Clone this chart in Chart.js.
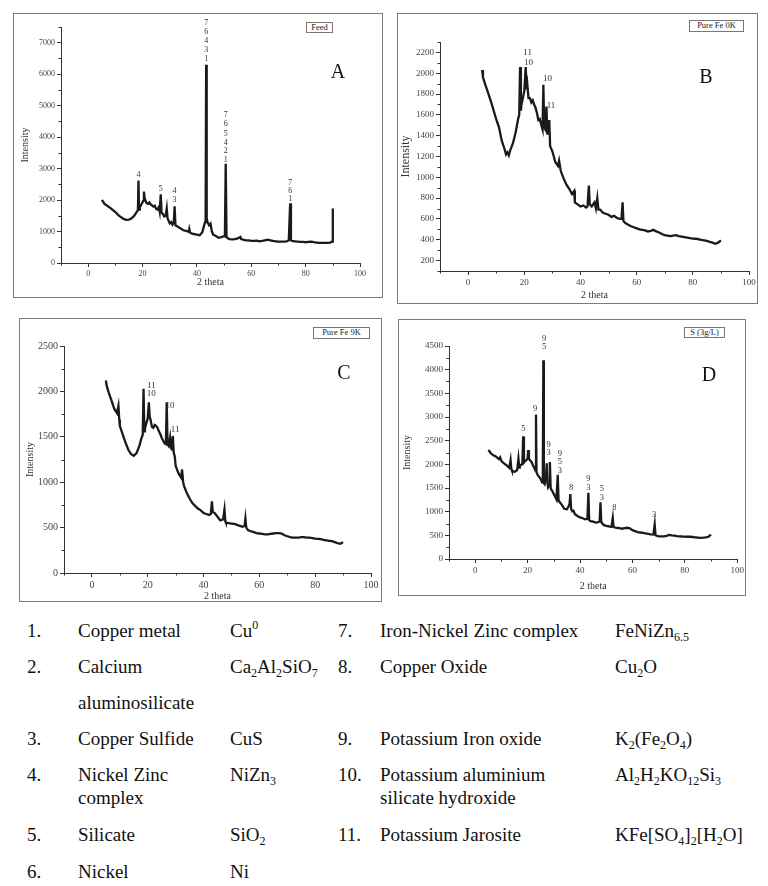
<!DOCTYPE html>
<html>
<head>
<meta charset="utf-8">
<script src="https://cdn.jsdelivr.net/npm/chart.js@4.4.1/dist/chart.umd.min.js"></script>
<style>
  body { margin: 0; width: 768px; height: 886px; background: #fff; position: relative; overflow: hidden;
         font-family: "Liberation Serif", "Times New Roman", serif; }
  .panel { position: absolute; }
  .panel canvas { position: absolute; left: 0; top: 0; }
  .frame { position: absolute; border: 1.5px solid #7a7a7a; box-sizing: border-box; pointer-events: none; }
  .tag { position: absolute; border: 1px solid #777; box-sizing: border-box; font-size: 8.5px; line-height: 9px;
         text-align: center; color: #222; background: #fff; white-space: nowrap; }
  .letter { position: absolute; font-size: 20px; line-height: 20px; color: #111; transform: translate(-50%, -50%); }
  .t { position: absolute; font-size: 19px; line-height: 22px; color: #111; white-space: nowrap; }
  sub { font-size: 12px; line-height: 0; vertical-align: -4px; }
  sup { font-size: 12px; line-height: 0; vertical-align: 8px; }
</style>
</head>
<body>

<div class="panel" style="left:13px;top:13px;width:370px;height:285px"><canvas id="chartA" width="370" height="285"></canvas></div>
<div class="frame" style="left:13px;top:13px;width:370px;height:285px"></div>
<div class="tag" style="left:306px;top:22px;width:27px;height:11px">Feed</div>
<div class="letter" style="left:338px;top:71px">A</div>

<div class="panel" style="left:397px;top:13px;width:361px;height:291px"><canvas id="chartB" width="361" height="291"></canvas></div>
<div class="frame" style="left:397px;top:13px;width:361px;height:291px"></div>
<div class="tag" style="left:689px;top:20px;width:55px;height:12px">Pure Fe 0K</div>
<div class="letter" style="left:706px;top:76px">B</div>

<div class="panel" style="left:19px;top:318px;width:363px;height:284px"><canvas id="chartC" width="363" height="284"></canvas></div>
<div class="frame" style="left:19px;top:318px;width:363px;height:284px"></div>
<div class="tag" style="left:313px;top:327px;width:57px;height:12px">Pure Fe 9K</div>
<div class="letter" style="left:344px;top:372px">C</div>

<div class="panel" style="left:398px;top:319px;width:348px;height:277px"><canvas id="chartD" width="348" height="277"></canvas></div>
<div class="frame" style="left:398px;top:319px;width:348px;height:277px"></div>
<div class="tag" style="left:684px;top:327px;width:41px;height:11px">S (3g/L)</div>
<div class="letter" style="left:709px;top:374px">D</div>

<div class="t" style="left:27px;top:620px">1.</div>
<div class="t" style="left:78px;top:620px">Copper metal</div>
<div class="t" style="left:230px;top:620px">Cu<sup>0</sup></div>
<div class="t" style="left:338px;top:620px">7.</div>
<div class="t" style="left:380px;top:620px">Iron-Nickel Zinc complex</div>
<div class="t" style="left:615px;top:620px">FeNiZn<sub>6.5</sub></div>

<div class="t" style="left:27px;top:656px">2.</div>
<div class="t" style="left:78px;top:656px">Calcium</div>
<div class="t" style="left:230px;top:656px">Ca<sub>2</sub>Al<sub>2</sub>SiO<sub>7</sub></div>
<div class="t" style="left:338px;top:656px">8.</div>
<div class="t" style="left:380px;top:656px">Copper Oxide</div>
<div class="t" style="left:615px;top:656px">Cu<sub>2</sub>O</div>
<div class="t" style="left:78px;top:692px">aluminosilicate</div>

<div class="t" style="left:27px;top:728px">3.</div>
<div class="t" style="left:78px;top:728px">Copper Sulfide</div>
<div class="t" style="left:230px;top:728px">CuS</div>
<div class="t" style="left:338px;top:728px">9.</div>
<div class="t" style="left:380px;top:728px">Potassium Iron oxide</div>
<div class="t" style="left:615px;top:728px">K<sub>2</sub>(Fe<sub>2</sub>O<sub>4</sub>)</div>

<div class="t" style="left:27px;top:764px">4.</div>
<div class="t" style="left:78px;top:764px">Nickel Zinc</div>
<div class="t" style="left:230px;top:764px">NiZn<sub>3</sub></div>
<div class="t" style="left:338px;top:764px">10.</div>
<div class="t" style="left:380px;top:764px">Potassium aluminium</div>
<div class="t" style="left:615px;top:764px">Al<sub>2</sub>H<sub>2</sub>KO<sub>12</sub>Si<sub>3</sub></div>
<div class="t" style="left:78px;top:787px">complex</div>
<div class="t" style="left:380px;top:787px">silicate hydroxide</div>

<div class="t" style="left:27px;top:824px">5.</div>
<div class="t" style="left:78px;top:824px">Silicate</div>
<div class="t" style="left:230px;top:824px">SiO<sub>2</sub></div>
<div class="t" style="left:338px;top:824px">11.</div>
<div class="t" style="left:380px;top:824px">Potassium Jarosite</div>
<div class="t" style="left:615px;top:824px">KFe[SO<sub>4</sub>]<sub>2</sub>[H<sub>2</sub>O]</div>

<div class="t" style="left:27px;top:861px">6.</div>
<div class="t" style="left:78px;top:861px">Nickel</div>
<div class="t" style="left:230px;top:861px">Ni</div>

<script>
// ---- A: Feed ----
const feedTheta = [5, 5.5, 6, 7, 8, 9, 10, 11, 12, 13, 14, 15, 16, 17, 17.8, 18.3, 18.5, 18.7, 19, 19.5, 20, 20.3, 20.5, 20.8, 21, 21.5, 22, 22.5, 23, 24, 24.5, 25, 25.5, 26, 26.3, 26.7, 27, 27.5, 28, 28.5, 28.9, 29.2, 30, 30.5, 31, 31.5, 31.8, 32.1, 33, 34, 35, 36, 37, 37.2, 37.5, 38, 39, 40, 41, 42, 42.5, 43, 43.2, 43.4, 43.6, 44, 44.5, 45, 45.5, 46, 47, 48, 49, 50, 50.3, 50.6, 50.9, 51.5, 52, 53, 54, 55, 56, 56.3, 57, 58, 59, 60, 61, 62, 63, 64, 65, 66, 67, 68, 69, 70, 71, 72, 73, 73.8, 74.3, 74.6, 75, 76, 77, 78, 79, 80, 81, 82, 83, 84, 85, 86, 87, 88, 89, 89.7, 90];
const feedIntensity = [2000, 1950, 1880, 1820, 1760, 1690, 1620, 1530, 1460, 1400, 1370, 1380, 1420, 1510, 1620, 1680, 2620, 1700, 1760, 1850, 1930, 1980, 2270, 2050, 2000, 1900, 1880, 1920, 1860, 1790, 1820, 1720, 1700, 1780, 1640, 2180, 1600, 1560, 1480, 1500, 1740, 1420, 1260, 1300, 1220, 1300, 1800, 1200, 1150, 1100, 1040, 1020, 990, 1080, 960, 940, 920, 900, 880, 980, 1150, 1300, 1400, 6300, 1400, 1280, 1200, 1250, 1000, 900, 860, 800, 820, 850, 900, 3150, 820, 780, 760, 750, 760, 780, 830, 760, 740, 720, 720, 700, 700, 710, 690, 700, 720, 740, 720, 700, 690, 680, 680, 680, 690, 720, 1900, 720, 700, 690, 680, 670, 670, 660, 670, 680, 660, 650, 640, 640, 640, 640, 650, 680, 1730];
const feedPeakTheta = [18.5, 26.7, 31.8, 31.8, 43.4, 43.4, 43.4, 43.4, 43.4, 50.6, 50.6, 50.6, 50.6, 50.6, 50.6, 74.3, 74.3, 74.3];
const feedPeakIntensity = [2800, 2370, 2290, 2000, 7620, 7340, 7060, 6780, 6500, 4710, 4410, 4110, 3820, 3550, 3280, 2540, 2290, 2050];
const feedPeakText = ['4', '5', '4', '3', '7', '6', '4', '3', '1', '7', '6', '5', '4', '2', '1', '7', '6', '1'];

// ---- B: Pure Fe 0K ----
const fe0Theta = [5, 5.3, 6, 7, 8, 9, 10, 11, 12, 13, 13.5, 14, 14.5, 15, 16, 17, 17.8, 18.2, 18.5, 18.8, 19, 19.5, 20, 20.5, 20.8, 21, 21.5, 22, 22.5, 23, 23.5, 24, 24.5, 25, 25.5, 26, 26.5, 26.8, 27.1, 27.5, 27.9, 28.2, 28.6, 28.9, 29.2, 30, 30.5, 31, 31.5, 32, 32.4, 33, 34, 35, 36, 37, 37.8, 38, 39, 40, 41, 42, 42.5, 43, 43.3, 44, 45, 45.5, 46, 46.4, 47, 48, 49, 50, 51, 52, 53, 54, 54.6, 55, 55.3, 56, 57, 58, 59, 60, 61, 62, 63, 64, 65, 66, 67, 68, 69, 70, 71, 72, 73, 74, 75, 76, 77, 78, 79, 80, 81, 82, 83, 84, 85, 86, 87, 88, 89, 90];
const fe0Intensity = [2030, 1960, 1900, 1820, 1740, 1650, 1560, 1480, 1350, 1270, 1220, 1240, 1210, 1260, 1330, 1440, 1560, 1600, 2060, 1640, 1700, 1760, 1830, 2060, 1900, 1920, 1760, 1760, 1720, 1740, 1700, 1670, 1620, 1550, 1560, 1510, 1460, 1890, 1480, 1460, 1680, 1420, 1420, 1550, 1300, 1250, 1200, 1150, 1130, 1110, 1160, 1060, 990, 930, 890, 840, 870, 760, 740, 720, 730, 710, 720, 920, 740, 720, 760, 700, 800, 690, 690, 660, 650, 640, 620, 630, 610, 600, 600, 760, 580, 560, 545, 530, 520, 510, 500, 495, 490, 480, 485, 495, 480, 470, 455, 445, 440, 435, 440, 445, 435, 430, 425, 420, 415, 412, 410, 405, 400, 395, 390, 380, 372, 362, 372, 395];
const fe0PeakTheta = [21.2, 21.5, 28.3, 29.5];
const fe0PeakIntensity = [2195, 2100, 1950, 1690];
const fe0PeakText = ['11', '10', '10', '11'];

// ---- C: Pure Fe 9K ----
const fe9Theta = [5, 5.3, 6, 7, 8, 9, 9.5, 9.8, 10, 11, 12, 13, 14, 15, 16, 17, 17.8, 18.2, 18.5, 18.8, 19, 19.5, 20, 20.4, 20.7, 21, 21.5, 22, 22.5, 23, 23.5, 24, 24.5, 25, 25.5, 26, 26.5, 26.8, 27.1, 27.5, 28, 28.3, 28.7, 29, 29.3, 29.7, 30, 31, 32, 32.3, 32.7, 33, 34, 35, 36, 37, 38, 39, 40, 41, 42, 42.6, 43, 43.3, 44, 45, 46, 47, 47.5, 47.8, 48, 49, 50, 51, 52, 53, 54, 54.7, 55, 55.3, 56, 57, 58, 59, 60, 61, 62, 63, 64, 65, 66, 67, 68, 69, 70, 71, 72, 73, 74, 75, 76, 77, 78, 79, 80, 81, 82, 83, 84, 85, 86, 87, 88, 89, 90];
const fe9Intensity = [2120, 2060, 1990, 1900, 1810, 1760, 1840, 1690, 1620, 1530, 1440, 1360, 1310, 1290, 1320, 1400, 1490, 1520, 2030, 1560, 1590, 1650, 1700, 1880, 1720, 1690, 1610, 1600, 1630, 1620, 1600, 1560, 1530, 1490, 1460, 1430, 1420, 1880, 1420, 1400, 1490, 1380, 1360, 1510, 1330, 1280, 1180, 1100, 1050, 1140, 1000, 960, 880, 820, 770, 740, 710, 690, 660, 650, 640, 650, 790, 670, 660, 620, 580, 590, 700, 570, 555, 550, 545, 540, 530, 520, 510, 520, 600, 500, 470, 460, 450, 440, 435, 430, 425, 425, 430, 435, 440, 440, 435, 415, 405, 395, 390, 390, 390, 395, 395, 390, 390, 385, 378, 375, 372, 365, 360, 355, 350, 340, 330, 322, 340];
const fe9PeakTheta = [21.3, 21.3, 28.0, 29.8];
const fe9PeakIntensity = [2066, 1973, 1843, 1584];
const fe9PeakText = ['11', '10', '10', '11'];

// ---- D: S (3g/L) ----
const sTheta = [5, 5.5, 6, 7, 8, 9, 9.5, 10, 11, 12, 13, 13.5, 13.8, 14, 15, 16, 16.5, 16.8, 17, 17.5, 18, 18.3, 18.6, 19, 19.5, 20, 20.2, 20.5, 21, 21.5, 22, 22.5, 23, 23.2, 23.4, 24, 24.5, 25, 25.5, 25.8, 26, 26.2, 26.5, 27, 27.3, 27.6, 27.8, 28.2, 28.5, 28.8, 29, 29.5, 30, 30.5, 31, 31.5, 31.8, 32, 33, 34, 35, 35.5, 36, 36.3, 36.6, 37, 37.5, 38, 39, 40, 41, 42, 42.8, 43.2, 43.5, 44, 45, 46, 47, 47.5, 47.8, 48.1, 49, 50, 51, 52, 52.5, 52.8, 53, 54, 55, 56, 57, 58, 59, 60, 61, 62, 63, 64, 65, 66, 67, 68, 68.5, 68.8, 69, 70, 71, 72, 73, 74, 75, 76, 77, 78, 79, 80, 81, 82, 83, 84, 85, 86, 87, 88, 89, 90];
const sIntensity = [2300, 2270, 2230, 2190, 2160, 2110, 2150, 2070, 2020, 1980, 1930, 2090, 1900, 1870, 1840, 1880, 2120, 1930, 1960, 1990, 2010, 2590, 2040, 2070, 2090, 2120, 2300, 2120, 2080, 2050, 1980, 1930, 1870, 3050, 1830, 1760, 1730, 1690, 1620, 1700, 4200, 1600, 1580, 1720, 2020, 1600, 1520, 1560, 2050, 1500, 1470, 1430, 1370, 1320, 1260, 1780, 1240, 1220, 1150, 1060, 1050, 1100, 1160, 1370, 1060, 1010, 1020, 950, 910, 880, 860, 840, 850, 1400, 820, 800, 790, 770, 780, 800, 1200, 780, 720, 700, 690, 680, 870, 680, 670, 660, 650, 640, 650, 660, 650, 610, 590, 570, 560, 550, 540, 530, 520, 515, 730, 510, 495, 480, 480, 480, 490, 510, 500, 495, 485, 480, 475, 472, 470, 470, 465, 458, 452, 445, 450, 458, 470, 515];
const sPeakTheta = [18.4, 22.9, 26.3, 26.3, 28.0, 28.0, 32.3, 32.3, 32.3, 36.6, 43.2, 43.2, 48.3, 48.3, 53.1, 68.3];
const sPeakIntensity = [2743, 3171, 4657, 4479, 2421, 2243, 2229, 2050, 1857, 1514, 1693, 1514, 1479, 1286, 1086, 929];
const sPeakText = ['5', '9', '9', '5', '9', '3', '9', '5', '3', '8', '9', '3', '5', '3', '8', '3'];

const thetaTicks = [0, 20, 40, 60, 80, 100];
const thetaMinor = [-10, 10, 30, 50, 70, 90];

const minorTicks = {
  id: 'minorTicks',
  afterDraw(chart, args, opts) {
    const {ctx, scales: {x, y}} = chart;
    ctx.save();
    ctx.strokeStyle = '#333';
    ctx.lineWidth = 1;
    ctx.beginPath();
    (opts.x || []).forEach(v => {
      const px = Math.round(x.getPixelForValue(v)) + 0.5;
      ctx.moveTo(px, x.top);
      ctx.lineTo(px, x.top + 2.5);
    });
    (opts.y || []).forEach(v => {
      const py = Math.round(y.getPixelForValue(v)) + 0.5;
      ctx.moveTo(y.right, py);
      ctx.lineTo(y.right - 2.5, py);
    });
    ctx.stroke();
    ctx.restore();
  }
};

const peakLabels = {
  id: 'peakLabels',
  afterDatasetsDraw(chart, args, opts) {
    if (!opts.text) return;
    const {ctx, scales: {x, y}} = chart;
    ctx.save();
    ctx.font = opts.font || '8px "Liberation Serif"';
    ctx.fillStyle = '#333';
    ctx.textAlign = 'center';
    ctx.textBaseline = 'middle';
    opts.text.forEach((t, i) => {
      ctx.fillText(t, x.getPixelForValue(opts.theta[i]), y.getPixelForValue(opts.intensity[i]));
    });
    ctx.restore();
  }
};

Chart.register(minorTicks, peakLabels);

function xrdChart(id, cfg) {
  const points = cfg.theta.map((t, i) => ({x: t, y: cfg.intensity[i]}));
  const serif = '"Liberation Serif", "Times New Roman", serif';
  return new Chart(document.getElementById(id), {
    type: 'line',
    data: {
      datasets: [{
        data: points,
        borderColor: '#1a1a1a',
        borderWidth: 2.3,
        borderJoinStyle: 'miter',
        pointRadius: 0,
        tension: 0
      }]
    },
    options: {
      responsive: false,
      animation: false,
      layout: {
        padding: {top: cfg.padTop, right: cfg.padRight, left: 0, bottom: 0}
      },
      plugins: {
        legend: {display: false},
        tooltip: {enabled: false},
        minorTicks: {x: thetaMinor, y: cfg.yMinor},
        peakLabels: {theta: cfg.peakTheta, intensity: cfg.peakIntensity, text: cfg.peakText, font: cfg.labelFont}
      },
      scales: {
        x: {
          type: 'linear',
          min: -10,
          max: 100,
          afterBuildTicks: s => { s.ticks = thetaTicks.map(v => ({value: v})); },
          afterFit: s => { s.height = cfg.xHeight; },
          border: {color: '#333', width: 1},
          grid: {drawOnChartArea: false, tickLength: 4, color: '#333'},
          ticks: {color: '#444', padding: 2, maxRotation: 0, callback: v => String(v),
                  font: {family: serif, size: cfg.tickSize}},
          title: {display: true, text: '2 theta', color: '#333', padding: {top: 0, bottom: cfg.xTitlePad},
                  font: {family: serif, size: 10}}
        },
        y: {
          min: cfg.yMin,
          max: cfg.yMax,
          afterBuildTicks: s => { s.ticks = cfg.yTicks.map(v => ({value: v})); },
          afterFit: s => { s.width = cfg.yWidth; },
          border: {color: '#333', width: 1},
          grid: {drawOnChartArea: false, tickLength: 4, color: '#333'},
          ticks: {color: '#444', padding: 2, callback: v => String(v), font: {family: serif, size: cfg.tickSize}},
          title: {display: true, text: 'Intensity', color: '#333', padding: {top: cfg.yTitlePad, bottom: 0},
                  font: {family: serif, size: cfg.yTitleSize}}
        }
      }
    }
  });
}

xrdChart('chartA', {
  theta: feedTheta, intensity: feedIntensity,
  peakTheta: feedPeakTheta, peakIntensity: feedPeakIntensity, peakText: feedPeakText, labelFont: '8px "Liberation Serif"',
  yMin: 0, yMax: 7500, yTicks: [0, 1000, 2000, 3000, 4000, 5000, 6000, 7000],
  yMinor: [500, 1500, 2500, 3500, 4500, 5500, 6500, 7500],
  padTop: 14, padRight: 23, yWidth: 48, xHeight: 35, tickSize: 8,
  xTitlePad: 10, yTitlePad: 6, yTitleSize: 10
});

xrdChart('chartB', {
  theta: fe0Theta, intensity: fe0Intensity,
  peakTheta: fe0PeakTheta, peakIntensity: fe0PeakIntensity, peakText: fe0PeakText, labelFont: '9px "Liberation Serif"',
  yMin: 100, yMax: 2300, yTicks: [200, 400, 600, 800, 1000, 1200, 1400, 1600, 1800, 2000, 2200],
  yMinor: [100, 300, 500, 700, 900, 1100, 1300, 1500, 1700, 1900, 2100, 2300],
  padTop: 29, padRight: 9, yWidth: 43, xHeight: 33, tickSize: 9,
  xTitlePad: 3, yTitlePad: 2, yTitleSize: 12
});

xrdChart('chartC', {
  theta: fe9Theta, intensity: fe9Intensity,
  peakTheta: fe9PeakTheta, peakIntensity: fe9PeakIntensity, peakText: fe9PeakText, labelFont: '9px "Liberation Serif"',
  yMin: 0, yMax: 2500, yTicks: [0, 500, 1000, 1500, 2000, 2500],
  yMinor: [250, 750, 1250, 1750, 2250],
  padTop: 28, padRight: 11, yWidth: 45, xHeight: 29, tickSize: 10,
  xTitlePad: 0, yTitlePad: 5, yTitleSize: 10
});

xrdChart('chartD', {
  theta: sTheta, intensity: sIntensity,
  peakTheta: sPeakTheta, peakIntensity: sPeakIntensity, peakText: sPeakText, labelFont: '8.5px "Liberation Serif"',
  yMin: 0, yMax: 4500, yTicks: [0, 500, 1000, 1500, 2000, 2500, 3000, 3500, 4000, 4500],
  yMinor: [250, 750, 1250, 1750, 2250, 2750, 3250, 3750, 4250],
  padTop: 27, padRight: 8, yWidth: 51, xHeight: 37, tickSize: 9,
  xTitlePad: 4, yTitlePad: 3, yTitleSize: 10
});
</script>
</body>
</html>
